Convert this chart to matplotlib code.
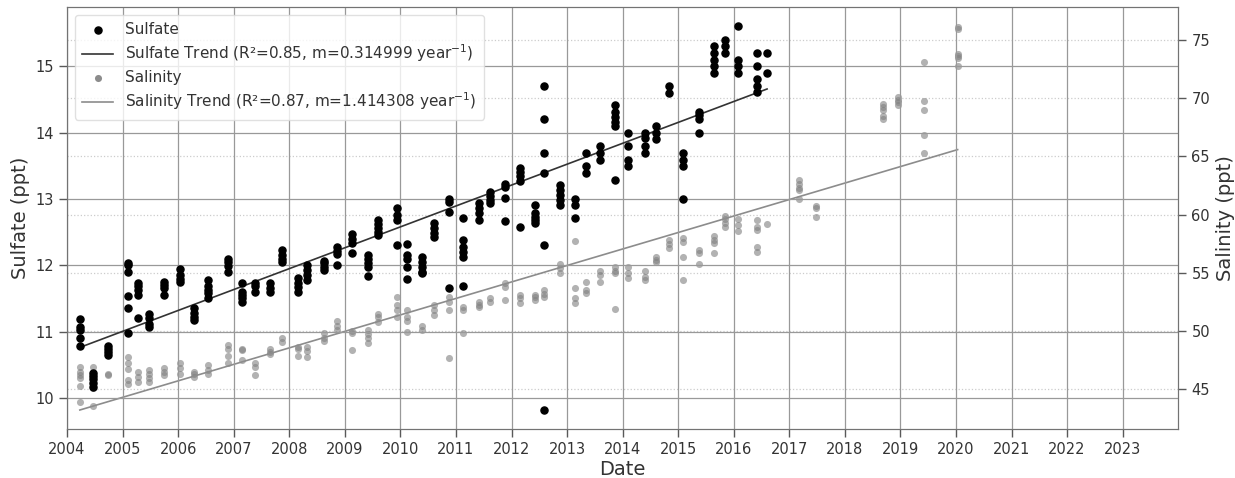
import matplotlib
matplotlib.use("Agg")
import matplotlib.pyplot as plt
import numpy as np

# sampling dates (decimal years) and measured values per date
sulfate_t = [2004.23, 2004.46, 2004.74, 2005.10, 2005.28, 2005.47, 2005.74, 2006.03,
             2006.29, 2006.54, 2006.89, 2007.14, 2007.38, 2007.65, 2007.86, 2008.15,
             2008.32, 2008.62, 2008.86, 2009.13, 2009.41, 2009.59, 2009.93, 2010.12,
             2010.38, 2010.60, 2010.88, 2011.12, 2011.41, 2011.61, 2011.88, 2012.15,
             2012.42, 2012.58, 2012.88, 2013.15, 2013.34, 2013.59, 2013.86, 2014.10,
             2014.40, 2014.60, 2014.83, 2015.08, 2015.37, 2015.64, 2015.85, 2016.08,
             2016.42, 2016.60]
sulfate_v = [[11.19, 11.07, 11.03, 10.90, 10.78],
             [10.38, 10.33, 10.28, 10.22, 10.17],
             [10.78, 10.74, 10.69, 10.64],
             [12.04, 12.00, 11.89, 11.53, 11.35, 10.98],
             [11.73, 11.68, 11.63, 11.55, 11.21],
             [11.27, 11.20, 11.12, 11.07],
             [11.74, 11.70, 11.65, 11.55],
             [11.94, 11.85, 11.79, 11.75],
             [11.35, 11.28, 11.22, 11.17],
             [11.78, 11.68, 11.63, 11.58, 11.50],
             [12.09, 12.05, 11.99, 11.90],
             [11.73, 11.60, 11.55, 11.50, 11.44],
             [11.73, 11.68, 11.60],
             [11.73, 11.65, 11.59],
             [12.23, 12.15, 12.10, 12.05],
             [11.80, 11.73, 11.67, 11.59],
             [12.00, 11.93, 11.85, 11.78],
             [12.07, 12.03, 11.98, 11.93],
             [12.27, 12.22, 12.17, 12.00],
             [12.47, 12.40, 12.33, 12.18],
             [12.15, 12.10, 12.03, 11.98, 11.84],
             [12.68, 12.62, 12.56, 12.50, 12.45],
             [12.86, 12.76, 12.68, 12.31],
             [12.32, 12.15, 12.09, 11.98, 11.79],
             [12.13, 12.05, 11.98, 11.90, 11.88],
             [12.63, 12.56, 12.48, 12.43],
             [13.00, 12.96, 12.80, 11.65],
             [12.71, 12.38, 12.28, 12.20, 12.13, 11.69],
             [12.93, 12.86, 12.78, 12.68],
             [13.10, 13.05, 12.99, 12.94],
             [13.23, 13.18, 13.02, 12.67],
             [13.46, 13.41, 13.34, 13.27, 12.58],
             [12.91, 12.78, 12.73, 12.68, 12.63],
             [14.70, 14.20, 13.69, 13.39, 12.30, 9.82],
             [13.21, 13.13, 13.06, 12.98, 12.90],
             [13.00, 12.91, 12.71],
             [13.69, 13.49, 13.39],
             [13.80, 13.69, 13.59],
             [14.41, 14.31, 14.24, 14.16, 14.10, 13.29],
             [14.00, 13.80, 13.59, 13.49],
             [14.00, 13.91, 13.80, 13.69],
             [14.10, 14.00, 13.90],
             [14.70, 14.60],
             [13.69, 13.59, 13.49, 13.00],
             [14.31, 14.26, 14.20, 14.00],
             [15.30, 15.20, 15.10, 15.00, 14.90],
             [15.40, 15.30, 15.20],
             [15.60, 15.10, 15.00, 14.90],
             [15.20, 15.00, 14.80, 14.70, 14.61],
             [15.20, 14.90]]

salinity_t = sulfate_t + [2017.17, 2017.48, 2018.69, 2018.96, 2019.43, 2020.03]
salinity_v = [[46.9, 46.5, 46.2, 45.95, 45.3, 43.95],
              [46.9, 46.1, 45.6, 45.1, 43.6],
              [46.35, 46.25],
              [47.75, 47.24, 46.72, 45.8, 45.46],
              [46.5, 46.1, 45.66],
              [46.66, 46.3, 45.95, 45.66],
              [46.8, 46.5, 46.23],
              [47.24, 46.8, 46.33],
              [46.5, 46.3, 46.1],
              [47.1, 46.66, 46.3],
              [48.8, 48.5, 47.9, 47.24],
              [48.5, 48.4, 47.5],
              [47.24, 46.95, 46.2],
              [48.5, 48.2, 48.0],
              [49.4, 49.1],
              [48.66, 48.5, 47.86],
              [48.66, 48.3, 47.8],
              [49.8, 49.45, 49.17],
              [50.9, 50.4, 50.1],
              [50.03, 49.8, 48.4],
              [50.1, 49.75, 49.4, 48.95],
              [51.5, 51.2, 50.8],
              [52.94, 52.23, 51.8, 51.23],
              [51.8, 51.23, 50.9, 49.9],
              [50.4, 50.1],
              [52.23, 51.8, 51.4],
              [52.94, 52.5, 51.8, 47.66],
              [52.1, 51.85, 49.8],
              [52.5, 52.23, 52.1],
              [52.8, 52.5],
              [54.1, 53.8, 52.66],
              [53.1, 52.8, 52.43],
              [53.1, 52.9, 52.66],
              [53.5, 53.2, 52.94],
              [55.8, 55.4, 54.95],
              [57.7, 53.67, 52.8, 52.4],
              [54.2, 53.5, 53.3],
              [55.2, 54.8, 54.2],
              [55.5, 55.2, 55.0, 51.86],
              [55.5, 54.95, 54.6],
              [55.2, 54.66, 54.4],
              [56.4, 56.1, 55.95],
              [57.8, 57.5, 57.1],
              [57.95, 57.65, 56.4, 54.4],
              [57.0, 56.7, 55.75],
              [58.14, 57.86, 57.57, 56.7],
              [59.86, 59.58, 59.3, 58.94],
              [59.66, 59.1, 58.6],
              [59.5, 58.94, 58.66, 57.2, 56.8],
              [59.2],
              [62.94, 62.6, 62.3, 62.15, 61.38],
              [60.72, 60.6, 59.8],
              [69.5, 69.2, 68.95, 68.5, 68.2],
              [70.1, 69.86, 69.65, 69.4],
              [73.1, 69.75, 69.0, 66.8, 65.3],
              [76.1, 75.95, 73.8, 73.65, 73.46, 72.74]]

# trend fits (slope per year, value at first date)
sulfate_r2, sulfate_m, sulfate_b = 0.85, 0.314999, 10.76
salinity_r2, salinity_m, salinity_b = 0.87, 1.414308, 43.23

years = list(range(2004, 2024))


def flatten(ts, vs):
    x, y = [], []
    for t, v in zip(ts, vs):
        x += [t] * len(v)
        y += v
    return np.array(x), np.array(y)


sx, sy = flatten(sulfate_t, sulfate_v)
cx, cy = flatten(salinity_t, salinity_v)

plt.rcParams["font.family"] = "DejaVu Sans"
txt = "0.2"

fig = plt.figure(figsize=(12.35, 4.78), dpi=100)
ax = fig.add_axes([0.0543, 0.1025, 0.8997, 0.8825])
ax2 = ax.twinx()

ax.set_zorder(2)
ax.patch.set_visible(False)

ax.grid(True, color="0.6", lw=0.9)
ax.set_axisbelow(True)
ax2.grid(True, axis="y", color="0.8", lw=0.9, ls=":")
ax2.set_axisbelow(True)

h1 = ax.scatter(sx, sy, s=26, color="black", zorder=3, label="Sulfate")
t0 = sulfate_t[0]
st = np.array([t0, sulfate_t[-1]])
h2, = ax.plot(st, sulfate_b + sulfate_m * (st - t0), color="0.2", lw=1.2,
              label="Sulfate Trend (R²=%.2f, m=%.6f year$^{-1}$)" % (sulfate_r2, sulfate_m))

h3 = ax2.scatter(cx, cy, s=26, color="gray", alpha=0.6, lw=0, label="Salinity")
ct = np.array([t0, salinity_t[-1]])
h4, = ax2.plot(ct, salinity_b + salinity_m * (ct - t0), color="0.55", lw=1.2,
               label="Salinity Trend (R²=%.2f, m=%.6f year$^{-1}$)" % (salinity_r2, salinity_m))

ax.set_xlim(2004, 2024)
ax.set_xticks(years)
ax.set_xticklabels([str(y) for y in years])
ax.set_ylim(9.53, 15.89)
ax.set_yticks([10, 11, 12, 13, 14, 15])
ax2.set_ylim(41.6, 77.8)
ax2.set_yticks([45, 50, 55, 60, 65, 70, 75])

for a in (ax, ax2):
    a.tick_params(direction="out", length=6, width=1, colors="0.35",
                  labelcolor=txt, labelsize=10.5)
    for sp in a.spines.values():
        sp.set_color("0.45")

ax.set_xlabel("Date", fontsize=14, color=txt, labelpad=2)
ax.set_ylabel("Sulfate (ppt)", fontsize=14, color=txt)
ax2.set_ylabel("Salinity (ppt)", fontsize=14, color=txt)

leg = ax.legend([h1, h2, h3, h4], [h.get_label() for h in (h1, h2, h3, h4)],
                loc="upper left", fontsize=11, framealpha=0.8, borderpad=0.5,
                labelspacing=0.35)
leg.get_frame().set_edgecolor("0.85")
leg.legend_handles[2].set_alpha(0.9)
for t in leg.get_texts():
    t.set_color(txt)

fig.savefig("out.png", dpi=100)
